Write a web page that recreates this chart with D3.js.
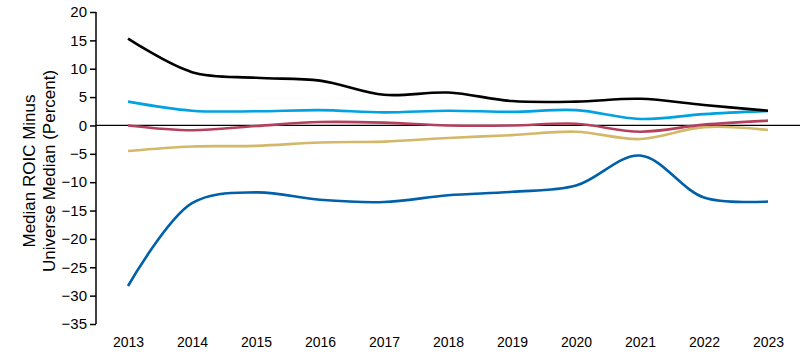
<!DOCTYPE html>
<html>
<head>
<meta charset="utf-8">
<script src="https://cdn.jsdelivr.net/npm/d3@7"></script>
<style>
  body { margin: 0; background: #fff; }
  svg text { font-family: "Liberation Sans", Arial, sans-serif; }
</style>
</head>
<body>
<svg id="chart" width="810" height="354"></svg>
<script>
var years = [2013, 2014, 2015, 2016, 2017, 2018, 2019, 2020, 2021, 2022, 2023];
var yTicks = [-35, -30, -25, -20, -15, -10, -5, 0, 5, 10, 15, 20];

// values (percent)
var blackSeries = [15.3, 9.4, 8.4, 7.9, 5.4, 5.8, 4.3, 4.2, 4.7, 3.6, 2.6];
var cyanSeries = [4.2, 2.6, 2.5, 2.7, 2.3, 2.6, 2.4, 2.7, 1.15, 2.0, 2.55];
var redSeries = [0.0, -0.85, -0.1, 0.6, 0.5, 0.0, 0.0, 0.3, -1.1, 0.15, 0.85];
var goldSeries = [-4.5, -3.7, -3.6, -3.0, -2.85, -2.2, -1.7, -1.1, -2.4, -0.3, -0.8];
var blueSeries = [-28.3, -13.7, -11.8, -13.1, -13.5, -12.3, -11.7, -10.6, -5.3, -12.7, -13.4];

var series = [
  { values: goldSeries, color: '#d4b86a' },
  { values: redSeries, color: '#b3405c' },
  { values: cyanSeries, color: '#00a2e1' },
  { values: blueSeries, color: '#0060a9' },
  { values: blackSeries, color: '#000000' }
];

var svg = d3.select('#chart');

var x = d3.scaleLinear().domain([2013, 2023]).range([128, 768]);
var y = d3.scaleLinear().domain([-35, 20]).range([324, 12]);

// y axis
var yAxis = d3.axisLeft(y).tickValues(yTicks).tickSize(6).tickPadding(3);
var gy = svg.append('g').attr('transform', 'translate(96,0)').call(yAxis);
gy.select('.domain').attr('stroke', '#000').attr('stroke-width', 1.5)
  .attr('d', 'M0,' + y(20) + 'V' + y(-35));
gy.selectAll('.tick line').attr('stroke', '#000').attr('stroke-width', 1.5);
gy.selectAll('.tick text').attr('font-size', 15).attr('fill', '#000')
  .attr('font-family', '"Liberation Sans", Arial, sans-serif');

// x axis labels (no tick marks)
var xAxis = d3.axisBottom(x).tickValues(years).tickFormat(d3.format('d')).tickSize(0).tickPadding(0);
var gx = svg.append('g').attr('transform', 'translate(0,337)').call(xAxis);
gx.select('.domain').remove();
gx.selectAll('.tick text').attr('font-size', 14).attr('fill', '#000')
  .attr('font-family', '"Liberation Sans", Arial, sans-serif');

// zero line
svg.append('line')
  .attr('x1', 96).attr('x2', 800)
  .attr('y1', y(0)).attr('y2', y(0))
  .attr('stroke', '#000').attr('stroke-width', 1.2);

// y axis title
var title = svg.append('text')
  .attr('transform', 'translate(35,171) rotate(-90)')
  .attr('text-anchor', 'middle')
  .attr('font-size', 17)
  .attr('fill', '#000');
title.append('tspan').attr('x', 0).attr('dy', 0).text('Median ROIC Minus');
title.append('tspan').attr('x', 0).attr('dy', 20).text('Universe Median (Percent)');

// lines
var line = d3.line()
  .x(function(d, i) { return x(years[i]); })
  .y(function(d) { return y(d); })
  .curve(d3.curveCatmullRom.alpha(0.5));

svg.selectAll('path.series')
  .data(series)
  .enter().append('path')
  .attr('class', 'series')
  .attr('fill', 'none')
  .attr('stroke', function(s) { return s.color; })
  .attr('stroke-width', 2.6)
  .attr('d', function(s) { return line(s.values); });
</script>
</body>
</html>
